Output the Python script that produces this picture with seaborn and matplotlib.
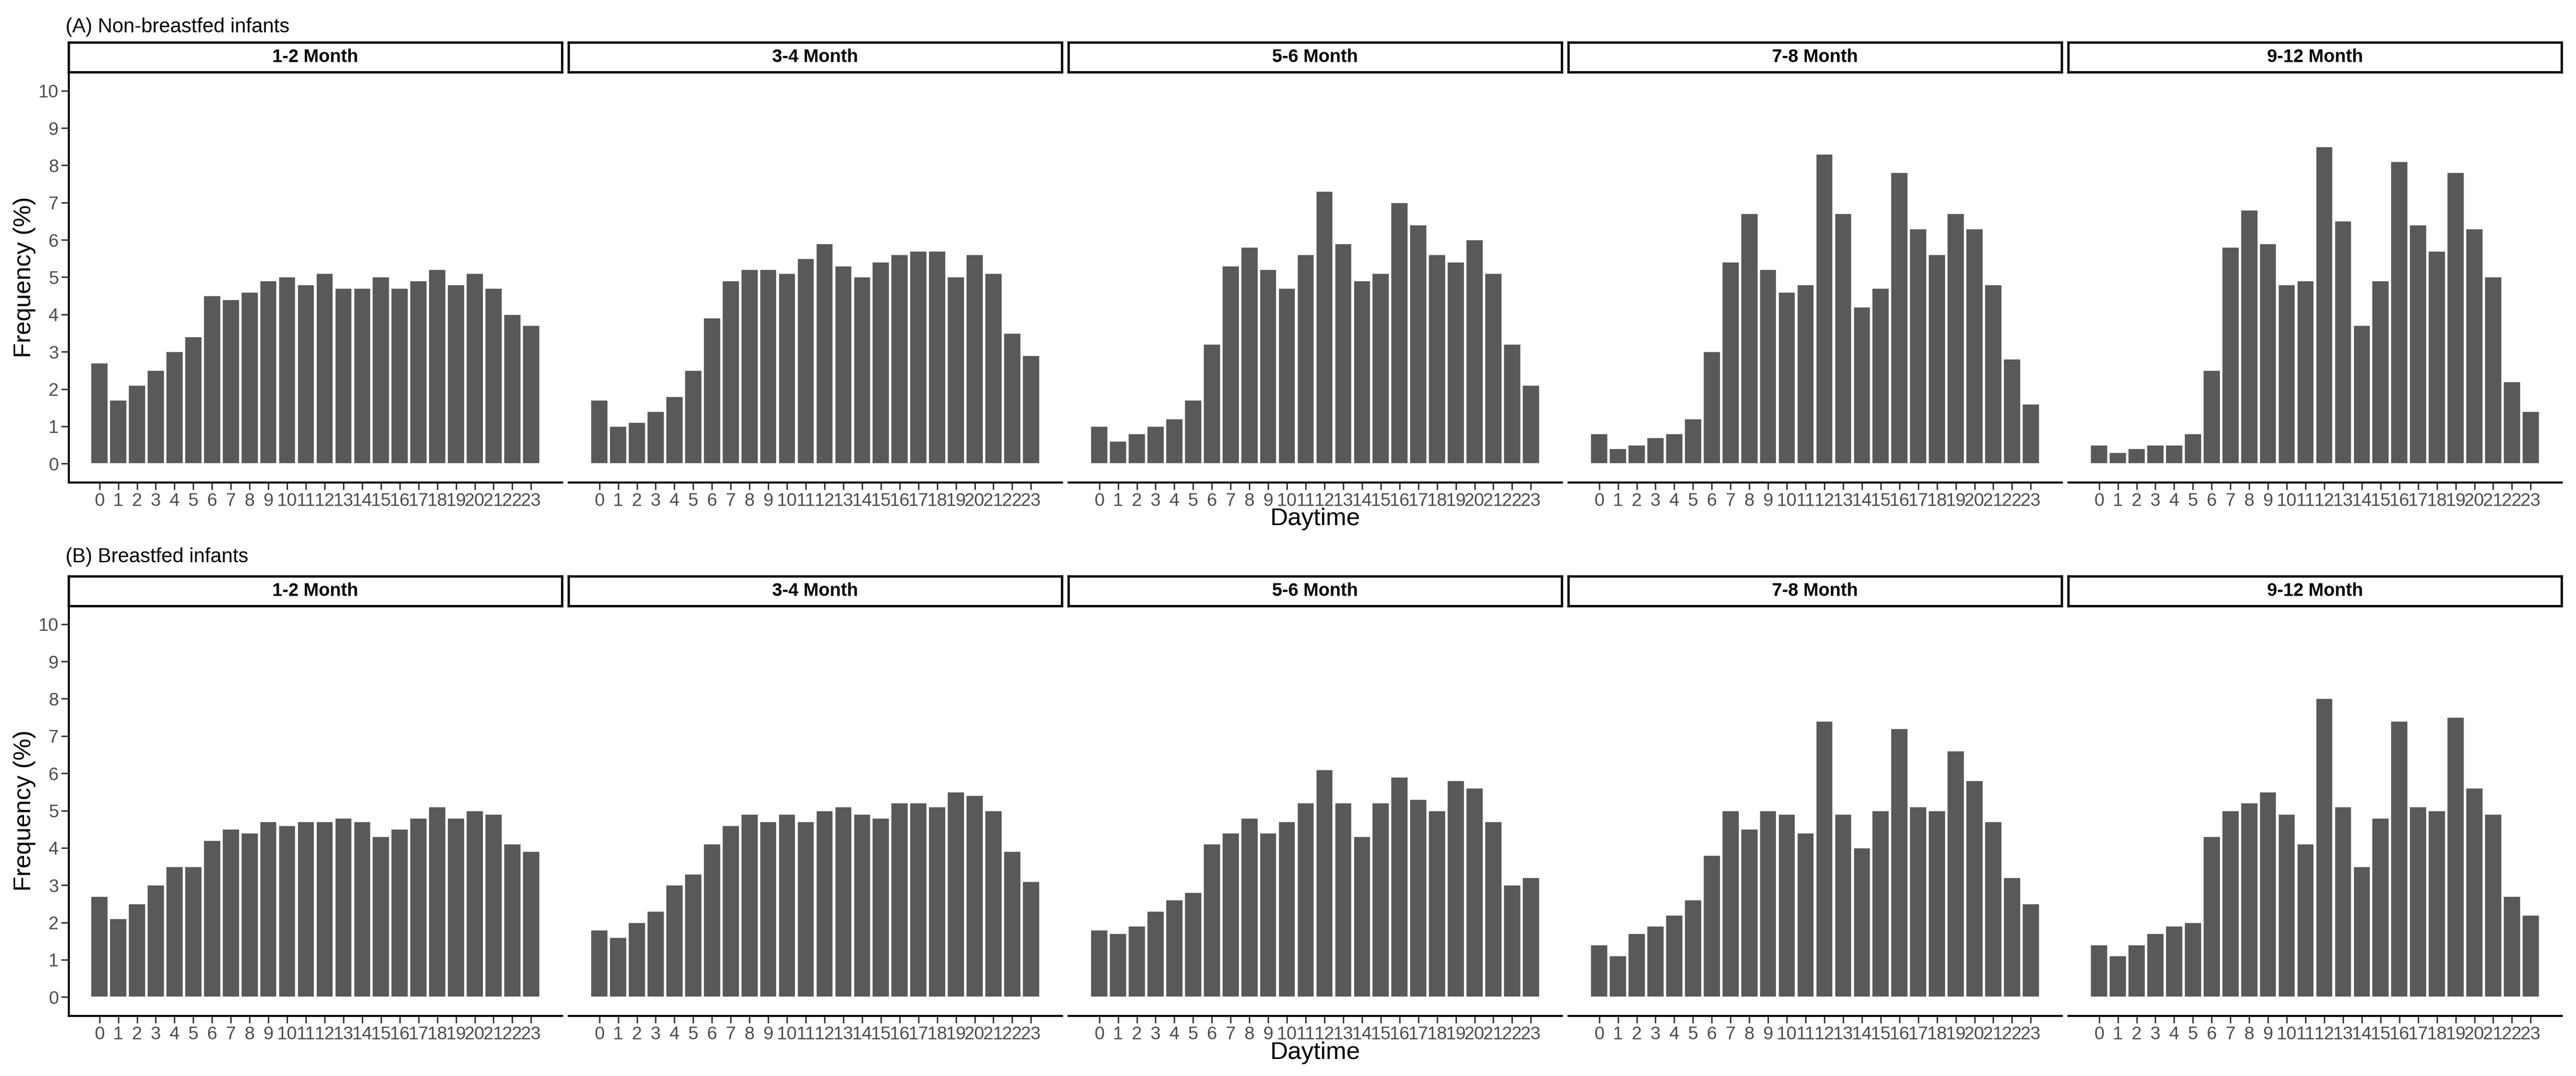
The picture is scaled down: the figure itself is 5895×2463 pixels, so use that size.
import numpy as np
import pandas as pd
import matplotlib
matplotlib.use("Agg")
import matplotlib.pyplot as plt
import seaborn as sns

# hours of the day and facet labels
hours = list(range(24))
months = ["1-2 Month", "3-4 Month", "5-6 Month", "7-8 Month", "9-12 Month"]
groups = ["(A) Non-breastfed infants", "(B) Breastfed infants"]

# (A) non-breastfed infants, frequency (%) per hour
nbf_1_2 = [2.7, 1.7, 2.1, 2.5, 3.0, 3.4, 4.5, 4.4, 4.6, 4.9, 5.0, 4.8, 5.1, 4.7, 4.7, 5.0, 4.7, 4.9, 5.2, 4.8, 5.1, 4.7, 4.0, 3.7]
nbf_3_4 = [1.7, 1.0, 1.1, 1.4, 1.8, 2.5, 3.9, 4.9, 5.2, 5.2, 5.1, 5.5, 5.9, 5.3, 5.0, 5.4, 5.6, 5.7, 5.7, 5.0, 5.6, 5.1, 3.5, 2.9]
nbf_5_6 = [1.0, 0.6, 0.8, 1.0, 1.2, 1.7, 3.2, 5.3, 5.8, 5.2, 4.7, 5.6, 7.3, 5.9, 4.9, 5.1, 7.0, 6.4, 5.6, 5.4, 6.0, 5.1, 3.2, 2.1]
nbf_7_8 = [0.8, 0.4, 0.5, 0.7, 0.8, 1.2, 3.0, 5.4, 6.7, 5.2, 4.6, 4.8, 8.3, 6.7, 4.2, 4.7, 7.8, 6.3, 5.6, 6.7, 6.3, 4.8, 2.8, 1.6]
nbf_9_12 = [0.5, 0.3, 0.4, 0.5, 0.5, 0.8, 2.5, 5.8, 6.8, 5.9, 4.8, 4.9, 8.5, 6.5, 3.7, 4.9, 8.1, 6.4, 5.7, 7.8, 6.3, 5.0, 2.2, 1.4]

# (B) breastfed infants
bf_1_2 = [2.7, 2.1, 2.5, 3.0, 3.5, 3.5, 4.2, 4.5, 4.4, 4.7, 4.6, 4.7, 4.7, 4.8, 4.7, 4.3, 4.5, 4.8, 5.1, 4.8, 5.0, 4.9, 4.1, 3.9]
bf_3_4 = [1.8, 1.6, 2.0, 2.3, 3.0, 3.3, 4.1, 4.6, 4.9, 4.7, 4.9, 4.7, 5.0, 5.1, 4.9, 4.8, 5.2, 5.2, 5.1, 5.5, 5.4, 5.0, 3.9, 3.1]
bf_5_6 = [1.8, 1.7, 1.9, 2.3, 2.6, 2.8, 4.1, 4.4, 4.8, 4.4, 4.7, 5.2, 6.1, 5.2, 4.3, 5.2, 5.9, 5.3, 5.0, 5.8, 5.6, 4.7, 3.0, 3.2]
bf_7_8 = [1.4, 1.1, 1.7, 1.9, 2.2, 2.6, 3.8, 5.0, 4.5, 5.0, 4.9, 4.4, 7.4, 4.9, 4.0, 5.0, 7.2, 5.1, 5.0, 6.6, 5.8, 4.7, 3.2, 2.5]
bf_9_12 = [1.4, 1.1, 1.4, 1.7, 1.9, 2.0, 4.3, 5.0, 5.2, 5.5, 4.9, 4.1, 8.0, 5.1, 3.5, 4.8, 7.4, 5.1, 5.0, 7.5, 5.6, 4.9, 2.7, 2.2]

series = {
    groups[0]: [nbf_1_2, nbf_3_4, nbf_5_6, nbf_7_8, nbf_9_12],
    groups[1]: [bf_1_2, bf_3_4, bf_5_6, bf_7_8, bf_9_12],
}

rows = []
for g in groups:
    for m, vals in zip(months, series[g]):
        for h, v in zip(hours, vals):
            rows.append({"group": g, "month": m, "hour": h, "freq": v})
df = pd.DataFrame(rows)

sns.set_theme(style="white")
plt.rcParams["font.family"] = ["Liberation Sans", "DejaVu Sans"]

fig = plt.figure(figsize=(5895 / 300, 2463 / 300), dpi=300)

left0 = 157 / 5895
width = 1129 / 5895
pitch = 1144 / 5895
ax_bottom = [1 - 1104 / 2463, 1 - 2325 / 2463]
ax_height = 939 / 2463
strip_bottom = [1 - 165 / 2463, 1 - 1387 / 2463]
strip_height = 68 / 2463
title_y = [1 - 62 / 2463, 1 - 1275 / 2463]
xlab_y = [1 - 1188 / 2463, 1 - 2410 / 2463]

tick_col = "#4D4D4D"
# continuous-style x expansion (5% of bar extent on each side)
pad_x = 0.05 * 23.9

for r, g in enumerate(groups):
    for c, m in enumerate(months):
        x0 = left0 + c * pitch
        ax = fig.add_axes([x0, ax_bottom[r], width, ax_height])
        sub = df[(df["group"] == g) & (df["month"] == m)]
        sns.barplot(data=sub, x="hour", y="freq", color="#595959", saturation=1,
                    width=0.9, edgecolor="white", linewidth=0.4, ax=ax)
        ax.set_xlim(-0.45 - pad_x, 23.45 + pad_x)
        ax.set_ylim(-0.5, 10.5)
        ax.set_yticks(range(11))
        ax.set_xlabel("")
        ax.set_ylabel("")
        for s in ["top", "right"]:
            ax.spines[s].set_visible(False)
        ax.spines["bottom"].set_linewidth(1.1)
        ax.spines["bottom"].set_color("black")
        ax.tick_params(axis="x", direction="out", length=4, width=0.8, pad=1.5,
                       colors="#333333", labelcolor=tick_col, labelsize=10, bottom=True)
        if c == 0:
            ax.spines["left"].set_linewidth(1.1)
            ax.spines["left"].set_color("black")
            ax.tick_params(axis="y", direction="out", length=4, width=0.8, pad=1.5,
                           colors="#333333", labelcolor=tick_col, labelsize=10, left=True)
        else:
            ax.spines["left"].set_visible(False)
            ax.tick_params(axis="y", left=False, labelleft=False)

        # facet strip
        sax = fig.add_axes([x0, strip_bottom[r], width, strip_height])
        sax.set_xticks([])
        sax.set_yticks([])
        sax.set_facecolor("white")
        for s in sax.spines.values():
            s.set_visible(True)
            s.set_linewidth(1.3)
            s.set_color("black")
        sax.text(0.5, 0.5, m, ha="center", va="center", fontsize=10,
                 fontweight="bold", color="black", transform=sax.transAxes)

    fig.text(left0 - 7 / 5895, title_y[r], g, ha="left", va="center", fontsize=11, color="black")
    fig.text(left0 + 2 * pitch + width / 2, xlab_y[r], "Daytime", ha="center", va="center",
             fontsize=13.5, color="black")
    fig.text(56 / 5895, ax_bottom[r] + ax_height / 2, "Frequency (%)", rotation=90,
             ha="center", va="center", fontsize=13.5, color="black")

fig.savefig("out.png", dpi=300, facecolor="white")
